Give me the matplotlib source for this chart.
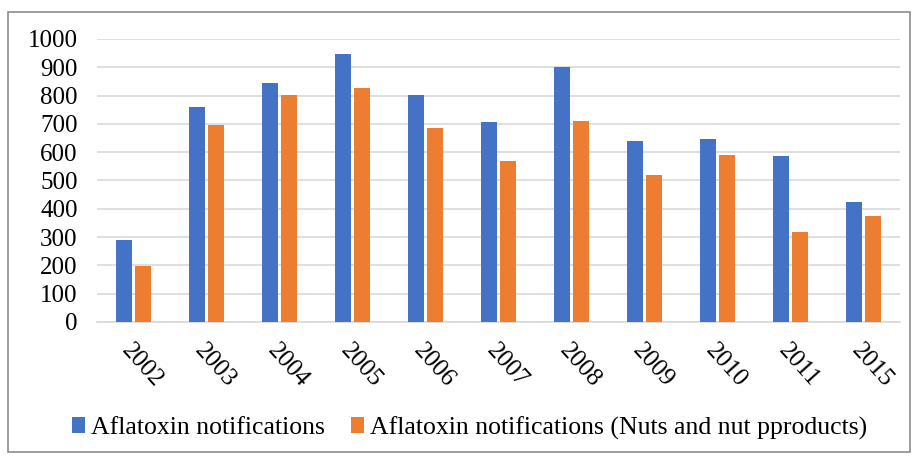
import matplotlib.pyplot as plt
import matplotlib.patches as mpatches
import numpy as np

plt.rcParams['font.family'] = ['Liberation Serif', 'DejaVu Serif']

years = ['2002', '2003', '2004', '2005', '2006', '2007', '2008', '2009', '2010', '2011', '2015']
total = [289, 761, 845, 946, 802, 706, 902, 638, 648, 585, 423]
nuts = [198, 695, 802, 828, 687, 568, 710, 518, 589, 318, 376]

blue = '#4472C4'
orange = '#ED7D31'

fig = plt.figure(figsize=(9.14, 4.57), dpi=100)
W, H = 914, 457
ax = fig.add_axes([97 / W, 1 - 322 / H, (900 - 97) / W, (322 - 39) / H])

x = np.arange(len(years))
bw = 0.22
ax.bar(x - 0.135, total, bw, color=blue, label='Aflatoxin notifications', zorder=3)
ax.bar(x + 0.135, nuts, bw, color=orange, label='Aflatoxin notifications (Nuts and nut pproducts)', zorder=3)

ax.set_ylim(0, 1000)
ax.set_xlim(-0.5, len(years) - 0.5)
ax.set_yticks(range(0, 1001, 100))
ax.yaxis.grid(True, color='#D9D9D9', linewidth=1.2, zorder=0)
for s in ['left', 'right', 'top']:
    ax.spines[s].set_visible(False)
ax.spines['bottom'].set_color('#D9D9D9')
ax.spines['bottom'].set_linewidth(1.2)
ax.tick_params(axis='both', length=0, labelsize=18, colors='#000000')
ax.tick_params(axis='y', pad=14)
ax.set_xticks(x)
ax.set_xticklabels(years, rotation=-48, ha='left', rotation_mode='anchor')
ax.tick_params(axis='x', pad=13)

fig.legend(loc='center', bbox_to_anchor=(0.514, 1 - 428 / H), ncol=2, frameon=False,
           fontsize=18.5, handlelength=0.5, handleheight=0.6, handletextpad=0.25,
           columnspacing=1.0)

# outer frame
fig.patches.append(mpatches.Rectangle((8 / W, 1 - 452 / H), (910 - 8) / W, (452 - 12) / H,
                                      transform=fig.transFigure, fill=False,
                                      edgecolor='#8C8C8C', linewidth=1.2))

fig.savefig('out.png', dpi=100)
